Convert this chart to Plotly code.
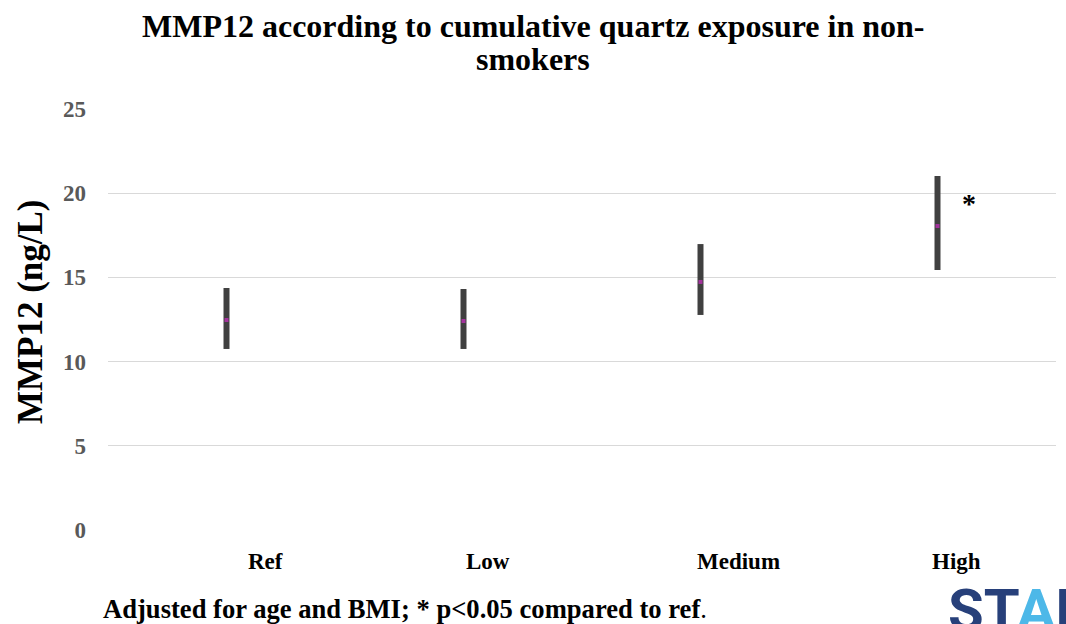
import plotly.graph_objects as go

categories = ["Ref", "Low", "Medium", "High"]
means = [12.47, 12.41, 14.73, 18.05]
upper = [14.37, 14.31, 16.98, 21.02]
lower = [10.75, 10.75, 12.77, 15.44]
y_ticks = [0, 5, 10, 15, 20, 25]

err_plus = [u - m for u, m in zip(upper, means)]
err_minus = [m - l for m, l in zip(means, lower)]

serif = "Liberation Serif, Times New Roman, serif"

fig = go.Figure()
fig.add_trace(go.Scatter(
    x=categories, y=means, mode="markers",
    marker=dict(symbol="square", size=4, color="#a3329c"),
    error_y=dict(type="data", symmetric=False, array=err_plus, arrayminus=err_minus,
                 thickness=6, width=0, color="#404040"),
    showlegend=False,
))

# category labels (drawn slightly right of the marks, as in the reference)
label_shifts = [39, 24, 38, 19]
for cat, dx in zip(categories, label_shifts):
    fig.add_annotation(x=cat, xref="x", y=0, yref="paper", yanchor="middle", yshift=-31,
                       xshift=dx, text=cat, showarrow=False,
                       font=dict(family=serif, size=23, color="black", weight="bold"))

fig.add_annotation(x="High", y=19.4, text="<b>*</b>", showarrow=False,
                   xshift=31, font=dict(family=serif, size=28, color="black"))

fig.add_annotation(xref="paper", yref="paper", x=0.448, y=1.197, xanchor="center", yanchor="middle",
                   text="<b>MMP12 according to cumulative quartz exposure in non-</b>",
                   showarrow=False, font=dict(family=serif, size=32, color="black"))
fig.add_annotation(xref="paper", yref="paper", x=0.448, y=1.119, xanchor="center", yanchor="middle",
                   text="<b>smokers</b>",
                   showarrow=False, font=dict(family=serif, size=32, color="black"))

fig.add_annotation(xref="paper", yref="paper", x=-0.0823, y=0.52, xanchor="center", yanchor="middle",
                   text="<b>MMP12 (ng/L)</b>", textangle=-90, showarrow=False,
                   font=dict(family=serif, size=35, color="black"))

fig.add_annotation(xref="paper", yref="paper", x=-0.007, y=-0.188, xanchor="left", yanchor="middle",
                   text="<b>Adjusted for age and BMI; * p<0.05 compared to ref</b>.",
                   showarrow=False, font=dict(family=serif, size=26.6, color="black"))

fig.add_annotation(xref="paper", yref="paper", x=0.884, y=-0.189, xanchor="left", yanchor="middle",
                   text="ST<span style='color:#4db8e8'>A</span>MI", showarrow=False,
                   font=dict(family="Roboto, DejaVu Sans, sans-serif", size=58, color="#27407a",
                             weight="bold"))

fig.update_layout(
    width=1066, height=624,
    margin=dict(l=108, r=10, t=109, b=94),
    plot_bgcolor="white", paper_bgcolor="white",
    xaxis=dict(type="category", range=[-0.5, 3.5], showgrid=False, showline=False, ticks="",
               showticklabels=False),
    yaxis=dict(range=[0, 25], tickvals=y_ticks, showgrid=True, gridcolor="#d9d9d9", gridwidth=1.3,
               zeroline=False, showline=False, ticks="",
               tickfont=dict(family=serif, size=23, color="#595959", weight="bold"),
               ticklabelstandoff=21),
)

fig.write_html("out.html")
